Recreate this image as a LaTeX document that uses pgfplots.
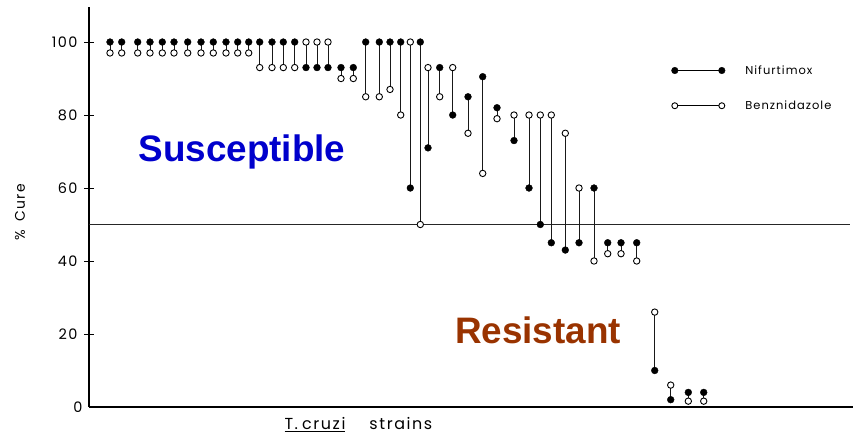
\documentclass[border=0pt]{standalone}
\usepackage{pgfplots}
\usepackage{pgfplotstable}
\pgfplotsset{compat=1.18}
\usepackage{fontspec}
\setmainfont{Poppins}
\newfontfamily\arialb{Liberation Sans}
\newfontfamily\widefont[LetterSpace=10]{Poppins}
\newfontfamily\legfont[LetterSpace=9]{Poppins}
\definecolor{susc}{RGB}{0,0,204}
\definecolor{resi}{RGB}{153,51,0}
\pgfplotstableread{
x n b
110 100 97
121.7 100 97
137.7 100 97
150 100 97
162.3 100 97
174 100 97
187.7 100 97
201 100 97
213.3 100 97
226 100 97
237.7 100 97
248.7 100 97
259.7 100 93
272 100 93
283.3 100 93
294.7 100 93
306 93 100
317 93 100
328 93 100
341 93 90
353.3 93 90
365.7 100 85
379.3 100 85
390 100 87
400.7 100 80
410.3 60 100
420.3 100 50
428 71 93
439.7 93 85
452.7 80 93
468 85 75
482.7 90.5 64
497 82 79
514 73 80
529 60 80
540.3 50 80
551.3 45 80
565.3 43 75
579 45 60
594 60 40
607.7 45 42
621 45 42
636.7 45 40
654.7 10 26
670.7 2 6
688.3 4 1.6
703.7 4 1.6
}\data
\begin{document}
\begin{tikzpicture}[x=1bp,y=1bp]
\path[use as bounding box] (0,0) rectangle (857,437);
\begin{axis}[
  at={(89bp,30bp)}, anchor=south west,
  scale only axis, width=764bp, height=400bp,
  xmin=89, xmax=853, ymin=0, ymax=109.6,
  axis x line=bottom, axis y line=left,
  axis line style={line width=1.3bp, -},
  xtick=\empty,
  ytick={20,40,60,80,100}, extra y ticks={0},
  extra y tick style={major tick length=0pt},
  tick align=center, major tick length=10bp,
  tick style={line width=1bp, black},
  yticklabel style={font=\widefont\fontsize{14.5}{14.5}\selectfont, xshift=-3bp},
  /pgf/number format/assume math mode=true,
  clip=false,
  legend style={draw=none, fill=none, at={(0.758,0.862)}, anchor=north west,
    row sep=23bp, nodes={inner sep=1bp, font=\legfont\fontsize{11.5}{11.5}\selectfont}},
  legend cell align=left,
]
\addplot[black!85, line width=1.2bp, forget plot] coordinates {(89,50) (850,50)};
\addplot[only marks, mark=none, forget plot,
  error bars/.cd, y dir=plus, y explicit, error mark=none,
  error bar style={line width=1bp, black!90}]
  table[x=x, y expr={min(\thisrow{n},\thisrow{b})}, y error expr={abs(\thisrow{b}-\thisrow{n})}]{\data};
\addplot[only marks, mark=*, mark size=3.4bp, black,
  legend image code/.code={\draw[line width=1.1bp] (0bp,0bp) -- (47bp,0bp);
    \fill (0bp,0bp) circle (3.3bp); \fill (47bp,0bp) circle (3.3bp);}]
  table[x=x, y=n]{\data};
\addlegendentry{\hspace{19bp}Nifurtimox}
\addplot[only marks, mark=*, mark size=3.2bp, black, mark options={fill=white, line width=0.9bp},
  legend image code/.code={\draw[line width=1.1bp] (0bp,0bp) -- (47bp,0bp);
    \filldraw[fill=white, line width=0.9bp] (0bp,0bp) circle (3bp); \filldraw[fill=white, line width=0.9bp] (47bp,0bp) circle (3bp);}]
  table[x=x, y=b]{\data};
\addlegendentry{\hspace{19bp}Benznidazole}
\end{axis}
\node[rotate=90, font=\widefont\fontsize{14}{14}\selectfont] at (20,225) {\%\hspace{8bp}Cure};
\node[anchor=west, font=\widefont\fontsize{16}{16}\selectfont] at (281,12) {\underline{T.\hspace{4bp}cruzi}\hspace{24bp}strains};
\node[font=\arialb\bfseries\fontsize{37}{37}\selectfont, text=susc] at (242,285) {Susceptible};
\node[font=\arialb\bfseries\fontsize{37}{37}\selectfont, text=resi] at (538,107) {Resistant};
\end{tikzpicture}
\end{document}
